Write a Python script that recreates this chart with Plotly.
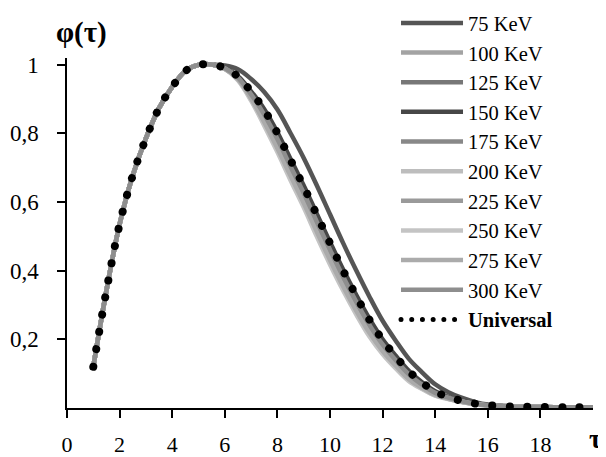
import plotly.graph_objects as go

# ---- data ----
tau_rise = [1, 1.5, 2, 2.5, 3, 3.5, 4, 4.5, 5, 5.5]
phi_rise = [0.12, 0.342, 0.535, 0.677, 0.785, 0.873, 0.935, 0.981, 0.999, 1.0]

tau_decay = [6, 6.5, 7, 7.5, 8, 8.5, 9, 9.5, 10, 10.5, 11, 11.5, 12, 12.5,
             13, 13.5, 14, 14.5, 15, 15.5, 16, 17, 18, 19, 20]

phi_75 = [0.997, 0.986, 0.958, 0.920, 0.869, 0.800, 0.728, 0.648, 0.564, 0.480, 0.400, 0.324,
          0.254, 0.196, 0.143, 0.104, 0.069, 0.046, 0.030, 0.018, 0.010, 0.005, 0.003, 0.002, 0.002]
phi_100 = [0.988, 0.958, 0.903, 0.837, 0.762, 0.682, 0.603, 0.519, 0.438, 0.360, 0.289, 0.224,
           0.170, 0.126, 0.087, 0.061, 0.040, 0.028, 0.018, 0.012, 0.008, 0.004, 0.003, 0.002, 0.002]
phi_125 = [0.990, 0.963, 0.917, 0.861, 0.791, 0.713, 0.635, 0.552, 0.470, 0.391, 0.317, 0.249,
           0.192, 0.145, 0.102, 0.071, 0.046, 0.031, 0.020, 0.013, 0.008, 0.004, 0.003, 0.002, 0.002]
phi_150 = [0.990, 0.966, 0.922, 0.870, 0.803, 0.725, 0.648, 0.565, 0.483, 0.403, 0.329, 0.260,
           0.200, 0.152, 0.108, 0.075, 0.049, 0.032, 0.021, 0.013, 0.008, 0.004, 0.003, 0.002, 0.002]
phi_175 = [0.989, 0.960, 0.909, 0.847, 0.775, 0.696, 0.618, 0.534, 0.452, 0.374, 0.302, 0.235,
           0.180, 0.135, 0.094, 0.066, 0.043, 0.029, 0.019, 0.012, 0.008, 0.004, 0.003, 0.002, 0.002]
phi_200 = [0.988, 0.956, 0.898, 0.827, 0.750, 0.669, 0.591, 0.506, 0.425, 0.348, 0.277, 0.214,
           0.162, 0.119, 0.081, 0.057, 0.037, 0.027, 0.018, 0.011, 0.007, 0.004, 0.003, 0.002, 0.002]
phi_225 = [0.988, 0.959, 0.906, 0.841, 0.768, 0.688, 0.610, 0.526, 0.444, 0.366, 0.295, 0.229,
           0.175, 0.130, 0.090, 0.063, 0.041, 0.028, 0.019, 0.012, 0.008, 0.004, 0.003, 0.002, 0.002]
phi_250 = [0.987, 0.954, 0.895, 0.822, 0.745, 0.663, 0.584, 0.499, 0.418, 0.342, 0.272, 0.208,
           0.157, 0.115, 0.078, 0.055, 0.036, 0.026, 0.017, 0.011, 0.007, 0.004, 0.003, 0.002, 0.002]
phi_275 = [0.988, 0.957, 0.901, 0.832, 0.756, 0.676, 0.597, 0.513, 0.431, 0.354, 0.283, 0.219,
           0.166, 0.123, 0.084, 0.059, 0.038, 0.027, 0.018, 0.012, 0.007, 0.004, 0.003, 0.002, 0.002]
phi_300 = [0.989, 0.962, 0.913, 0.854, 0.783, 0.703, 0.626, 0.542, 0.461, 0.382, 0.309, 0.242,
           0.185, 0.139, 0.098, 0.068, 0.044, 0.030, 0.020, 0.012, 0.008, 0.004, 0.003, 0.002, 0.002]

tau_universal = [1, 1.5, 2, 2.5, 3, 3.5, 4, 4.5, 5, 5.5, 6, 6.5, 7, 7.5, 8, 8.5, 9, 9.5, 10,
                 10.5, 11, 11.5, 12, 12.5, 13, 13.5, 14, 14.5, 15, 15.5, 16, 17, 18, 19, 19.8]
phi_universal = [0.12, 0.342, 0.535, 0.677, 0.785, 0.873, 0.935, 0.981, 0.999, 1.0,
                 0.99, 0.965, 0.921, 0.868, 0.80, 0.722, 0.645, 0.562, 0.48, 0.40, 0.326,
                 0.257, 0.198, 0.15, 0.107, 0.074, 0.048, 0.032, 0.021, 0.013, 0.008,
                 0.004, 0.003, 0.002, 0.002]

series_names = ["75 KeV", "100 KeV", "125 KeV", "150 KeV", "175 KeV",
                "200 KeV", "225 KeV", "250 KeV", "275 KeV", "300 KeV"]
series_decay = [phi_75, phi_100, phi_125, phi_150, phi_175,
                phi_200, phi_225, phi_250, phi_275, phi_300]
series_colors = ["#555555", "#a3a3a3", "#777777", "#474747", "#888888",
                 "#bdbdbd", "#9a9a9a", "#c4c4c4", "#ababab", "#8e8e8e"]

x_tickvals = [0, 2, 4, 6, 8, 10, 12, 14, 16, 18]
x_ticktext = ["0", "2", "4", "6", "8", "10", "12", "14", "16", "18"]
y_tickvals = [0.2, 0.4, 0.6, 0.8, 1.0]
y_ticktext = ["0,2", "0,4", "0,6", "0,8", "1"]

FONT = "Liberation Serif"

fig = go.Figure()
for name, dec, col in zip(series_names, series_decay, series_colors):
    fig.add_trace(go.Scatter(
        x=tau_rise + tau_decay, y=phi_rise + dec, name=name, mode="lines",
        line=dict(color=col, width=4.5, shape="spline", smoothing=1),
    ))
fig.add_trace(go.Scatter(
    x=tau_universal, y=phi_universal, name="<b>Universal</b>", mode="lines",
    line=dict(color="black", width=8, dash="8px,9.5px", shape="spline", smoothing=1),
))

# page body has an 8px margin: figure is 8px smaller so it fills the 606x457 window
fig.update_layout(
    width=598, height=449,
    margin=dict(l=59, r=13, t=50, b=49, autoexpand=False),
    paper_bgcolor="white", plot_bgcolor="white",
    font=dict(family=FONT, size=23, color="black"),
    showlegend=True,
    legend=dict(x=0.6255, xanchor="left", y=1.157, yanchor="top", maxheight=450,
                bgcolor="rgba(0,0,0,0)", font=dict(family=FONT, size=20.5, color="black"),
                itemwidth=62, tracegroupgap=0),
    xaxis=dict(range=[0, 20], showgrid=False, zeroline=False, showline=True,
               linecolor="black", linewidth=1.5, ticks="outside", ticklen=8,
               tickwidth=1.5, tickcolor="black", tickvals=x_tickvals, ticktext=x_ticktext,
               ticklabelstandoff=8, automargin=False,
               tickfont=dict(family=FONT, size=22)),
    yaxis=dict(range=[0, 1.019], showgrid=False, zeroline=False, showline=True,
               linecolor="black", linewidth=1.5, ticks="outside", ticklen=8,
               tickwidth=1.5, tickcolor="black", tickvals=y_tickvals, ticktext=y_ticktext,
               ticklabelstandoff=14, automargin=False,
               tickfont=dict(family=FONT, size=23)),
    annotations=[
        dict(text="<b>φ(τ)</b>", xref="paper", yref="paper", x=0.0285, y=1.074,
             xanchor="center", yanchor="middle", showarrow=False,
             font=dict(family=FONT, size=29, color="black")),
        dict(text="<b>τ</b>", xref="paper", yref="paper", x=1.004, y=-0.138,
             xanchor="center", yanchor="bottom", showarrow=False,
             font=dict(family=FONT, size=27, color="black")),
    ],
)

post = """
var gd = document.getElementById('{plot_id}');
var tr = gd.querySelectorAll('.scatterlayer .trace');
var last = tr[tr.length-1];
last.querySelectorAll('path.js-line').forEach(function(p){
  p.style.strokeLinecap='round'; p.style.strokeDasharray='0.01px,17.5px';});
var lg = gd.querySelectorAll('.legend .traces');
var ll = lg[lg.length-1];
ll.querySelectorAll('path.js-line').forEach(function(p){
  p.style.strokeLinecap='round'; p.style.strokeDasharray='0.01px,10.7px'; p.style.strokeWidth='5px';});
"""
fig.write_html("out.html", post_script=post)
